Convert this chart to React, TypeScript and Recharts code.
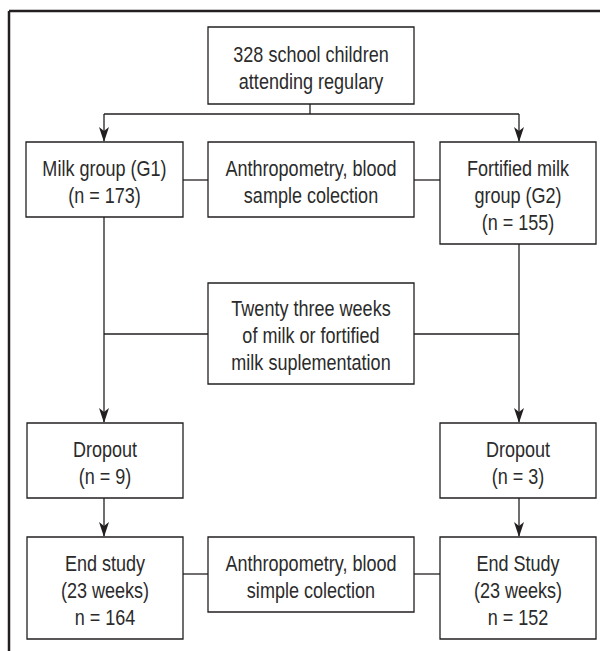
import React from 'react';
import { ScatterChart, XAxis, YAxis, ReferenceArea, ReferenceLine, Scatter } from 'recharts';

// Flowchart nodes: text lines
const nodeLabels: string[][] = [
  ['328 school children', 'attending regulary'],
  ['Milk group (G1)', '(n = 173)'],
  ['Anthropometry, blood', 'sample colection'],
  ['Fortified milk', 'group (G2)', '(n = 155)'],
  ['Twenty three weeks', 'of milk or fortified', 'milk suplementation'],
  ['Dropout', '(n = 9)'],
  ['Dropout', '(n = 3)'],
  ['End study', '(23 weeks)', 'n = 164'],
  ['Anthropometry, blood', 'simple colection'],
  ['End Study', '(23 weeks)', 'n = 152'],
];
// node extents in diagram units
const nodeLeft = [208, 26, 208, 440, 208, 27, 440, 27, 208, 440];
const nodeRight = [414, 183, 414, 596, 414, 183, 596, 183, 414, 596];
const nodeTop = [27, 142, 142, 142, 283, 423, 423, 537, 537, 537];
const nodeBottom = [104, 217, 217, 244, 384, 498, 498, 639, 612, 639];

// connectors [x1, y1, x2, y2]
const connectors: number[][] = [
  [310, 104, 310, 114],
  [104, 114, 519, 114],
  [104, 114, 104, 141],
  [519, 114, 519, 141],
  [183, 180, 208, 180],
  [414, 180, 440, 180],
  [104, 217, 104, 422],
  [519, 244, 519, 422],
  [104, 334, 208, 334],
  [414, 334, 519, 334],
  [104, 498, 104, 536],
  [519, 498, 519, 536],
  [183, 574, 208, 574],
  [414, 574, 440, 574],
];
// arrow tips
const arrowX = [104, 519, 104, 519, 104, 519];
const arrowY = [142, 142, 423, 423, 537, 537];

// frame
const frameLines: number[][] = [
  [9, 11, 600, 11],
  [9, 11, 9, 651],
];

const textData = nodeLabels.map((lines, i) => ({
  x: (nodeLeft[i] + nodeRight[i]) / 2,
  y: (nodeTop[i] + nodeBottom[i]) / 2,
  lines,
}));
const arrowData = arrowX.map((x, i) => ({ x, y: arrowY[i] }));

const FONT = "'Liberation Sans', Arial, sans-serif";
const INK = '#231f20';
const TEXT_INK = '#2b2b2b';
const LINE_H = 27;

const TextShape = (props: any) => {
  const { cx, cy, payload } = props;
  const lines: string[] = payload.lines;
  const firstCapCenter = cy + 2 - ((lines.length - 1) * LINE_H) / 2;
  return (
    <text
      transform={`translate(${cx} 0) scale(0.82 1)`}
      textAnchor="middle"
      fontFamily={FONT}
      fontSize={22}
      fill={TEXT_INK}
    >
      {lines.map((l, k) => (
        <tspan key={k} x={0} y={firstCapCenter + k * LINE_H + 8}>
          {l}
        </tspan>
      ))}
    </text>
  );
};

const ArrowShape = (props: any) => {
  const { cx, cy } = props;
  return (
    <path
      d={`M ${cx} ${cy} L ${cx - 5} ${cy - 15} L ${cx} ${cy - 11} L ${cx + 5} ${cy - 15} Z`}
      fill={INK}
      stroke="none"
    />
  );
};

export default function App() {
  return (
    <div style={{ position: 'absolute', left: 0, top: 0, width: 600, height: 651, background: '#fff' }}>
      <ScatterChart width={600} height={651} margin={{ top: 0, right: 0, bottom: 0, left: 0 }}>
        <XAxis type="number" dataKey="x" domain={[0, 600]} hide allowDataOverflow />
        <YAxis type="number" dataKey="y" domain={[0, 651]} reversed hide allowDataOverflow />
        {frameLines.map((s, i) => (
          <ReferenceLine
            key={'f' + i}
            segment={[{ x: s[0], y: s[1] }, { x: s[2], y: s[3] }]}
            stroke={INK}
            strokeWidth={2.5}
            ifOverflow="visible"
          />
        ))}
        {connectors.map((s, i) => (
          <ReferenceLine
            key={'c' + i}
            segment={[{ x: s[0], y: s[1] }, { x: s[2], y: s[3] }]}
            stroke={INK}
            strokeWidth={1.3}
            ifOverflow="visible"
          />
        ))}
        {nodeLabels.map((_, i) => (
          <ReferenceArea
            key={'n' + i}
            x1={nodeLeft[i]}
            x2={nodeRight[i]}
            y1={nodeTop[i]}
            y2={nodeBottom[i]}
            fill="#fff"
            fillOpacity={1}
            stroke={INK}
            strokeWidth={1.3}
            ifOverflow="visible"
          />
        ))}
        <Scatter data={arrowData} shape={ArrowShape} isAnimationActive={false} />
        <Scatter data={textData} shape={TextShape} isAnimationActive={false} />
      </ScatterChart>
    </div>
  );
}
